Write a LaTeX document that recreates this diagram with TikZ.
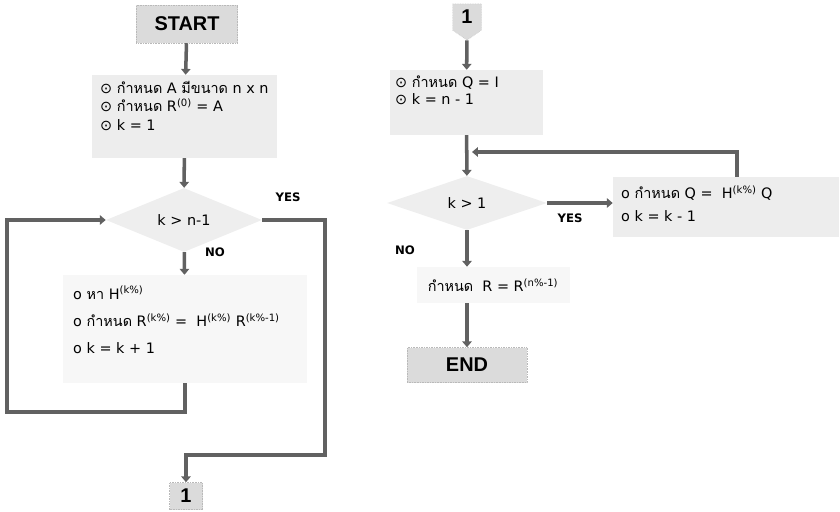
\documentclass[tikz,border=0pt]{standalone}
\usepackage{fontspec}
\setmainfont{DejaVu Sans}
\newfontfamily\thaifont[Script=Thai]{Loma}
\newfontfamily\termfont{Liberation Sans}
\usetikzlibrary{shapes.geometric,shapes.symbols,arrows.meta}
\newcommand{\tha}[1]{{\thaifont #1}}

\begin{document}
\begin{tikzpicture}[x=0.03cm,y=-0.03cm,
  term/.style={draw=gray!55,densely dotted,fill=gray!28,inner sep=0pt,font=\termfont\bfseries\fontsize{17}{17}\selectfont},
  proc/.style={fill=gray!14,inner sep=0pt},
  pale/.style={fill=gray!6,inner sep=0pt},
  test/.style={diamond,fill=gray!13,inner sep=0pt,font=\fontsize{12.3}{14}\selectfont},
  txt/.style={anchor=north west,align=left,inner sep=0pt,font=\fontsize{12.3}{15.7}\selectfont},
  flow/.style={draw=black!62,line width=3pt,-{Triangle[width=8pt,length=5pt]}},
  ans/.style={font=\bfseries\fontsize{10}{10}\selectfont}]
\useasboundingbox (0,0) rectangle (840,512);
\node[term,minimum width=3.03cm,minimum height=1.14cm] (start) at (187,24) {START};
\node[proc,minimum width=5.55cm,minimum height=2.49cm] (init) at (184.5,116.5) {};
\node[txt] (initTxt) at (100,81) {⊙ \tha{กำหนด} A \tha{มีขนาด} n x n\\⊙ \tha{กำหนด} R\textsuperscript{(0)} = A\\⊙ k = 1};
\node[test,minimum width=4.68cm,minimum height=1.68cm] (test1) at (184,220) {k > n-1};
\node[pale,minimum width=7.32cm,minimum height=3.24cm] (calc1) at (185,329) {};
\node[txt,font=\fontsize{12.3}{23.4}\selectfont] (calc1Txt) at (73,286) {o \tha{หา} H\textsuperscript{(k\%)}\\o \tha{กำหนด} R\textsuperscript{(k\%)} = \ H\textsuperscript{(k\%)} R\textsuperscript{(k\%-1)}\\o k = k + 1};
\node[term,minimum width=0.99cm,minimum height=0.81cm] (con1) at (186,496) {1};
\node[ans] (yes1) at (288,197) {YES};
\node[ans] (no1) at (215,252) {NO};
\node[term,signal,signal to=south,signal pointer angle=110,minimum width=0.87cm,minimum height=0.9cm] (con2) at (467,17) {1};
\node[proc,minimum width=4.59cm,minimum height=1.95cm] (setQ) at (466.5,102.5) {};
\node[txt,font=\fontsize{12.3}{14.5}\selectfont] (setQTxt) at (395,76) {⊙ \tha{กำหนด} Q = I\\⊙ k = n - 1};
\node[test,minimum width=4.8cm,minimum height=1.62cm] (test2) at (467,203) {k > 1};
\node[proc,minimum width=6.78cm,minimum height=1.8cm] (loopQ) at (726,207) {};
\node[txt,font=\fontsize{12.3}{19.5}\selectfont] (loopQTxt) at (621,186) {o \tha{กำหนด} Q = \ H\textsuperscript{(k\%)} Q\\o k = k - 1};
\node[pale,minimum width=4.59cm,minimum height=1.08cm,font=\fontsize{12.3}{14}\selectfont] (setR) at (493,285) {\tha{กำหนด} \ R = R\textsuperscript{(n\%-1)}};
\node[term,minimum width=3.6cm,minimum height=1.05cm] (stop) at (467,365) {END};
\node[ans] (yes2) at (570,218) {YES};
\node[ans] (no2) at (405,250) {NO};
\coordinate (loopL) at (7,412);
\coordinate (yesR) at (325,455);
\coordinate (merge) at (472,152);
\draw[flow] (start) -- (init);
\draw[flow] (init) -- (test1);
\draw[flow] (test1) -- (calc1);
\draw[flow] (calc1.south) |- (loopL) |- (test1.west);
\draw[flow] (test1.east) -| (yesR) -| (con1);
\draw[flow] (con2) -- (setQ);
\draw[flow] (setQ) -- (test2);
\draw[flow] ([shift={(11,0)}]loopQ.north) |- (merge);
\draw[flow] (test2.east) -- (test2.east -| loopQ.west);
\draw[flow] (test2.south) -- (test2.south |- setR.north);
\draw[flow] (setR.south -| stop) -- (stop);
\end{tikzpicture}
\end{document}
